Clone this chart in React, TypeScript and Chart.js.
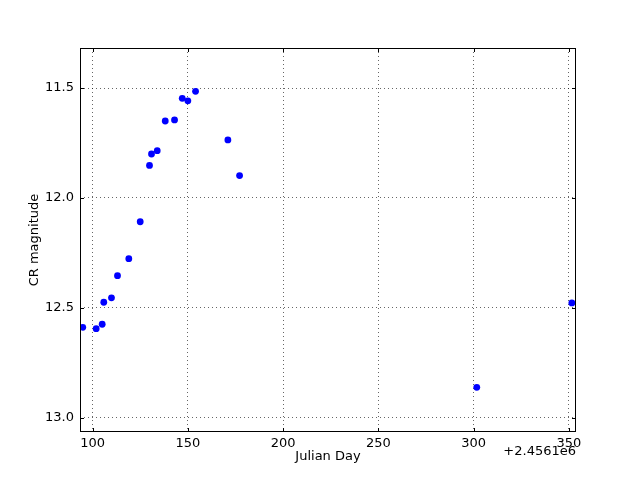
import React, { useEffect, useRef } from "react";
import { Chart, registerables } from "chart.js";

Chart.register(...registerables);

const julianDay: number[] = [94.85, 101.89, 105.04, 105.88, 109.92, 113.08, 119.01, 125.0, 129.88, 130.93, 133.93, 138.13, 143.01, 147.06, 150.0, 154.04, 171.01, 177.15, 301.63, 351.52];
const crMagnitude: number[] = [12.588, 12.594, 12.574, 12.474, 12.454, 12.353, 12.276, 12.108, 11.852, 11.800, 11.785, 11.650, 11.645, 11.547, 11.558, 11.515, 11.736, 11.898, 12.861, 12.477];
const xTicks: number[] = [100, 150, 200, 250, 300, 350];
const yTicks: number[] = [11.5, 12.0, 12.5, 13.0];
const xTitle = "Julian Day";
const yTitle = "CR magnitude";
const offsetText = "+2.4561e6";

const FONT = "DejaVu Sans";

const framePlugin = {
  id: "mplFrame",
  afterDraw(chart: any) {
    const ctx = chart.ctx;
    const { left, right, top, bottom } = chart.chartArea;
    const xs = chart.scales.x;
    const ys = chart.scales.y;
    ctx.save();
    ctx.strokeStyle = "#000";
    ctx.lineWidth = 1;
    ctx.setLineDash([]);
    ctx.beginPath();
    for (const v of xTicks) {
      const px = Math.round(xs.getPixelForValue(v)) + 0.5;
      ctx.moveTo(px, bottom);
      ctx.lineTo(px, bottom - 4);
      ctx.moveTo(px, top);
      ctx.lineTo(px, top + 4);
    }
    for (const v of yTicks) {
      const py = Math.round(ys.getPixelForValue(v)) + 0.5;
      ctx.moveTo(left, py);
      ctx.lineTo(left + 4, py);
      ctx.moveTo(right, py);
      ctx.lineTo(right - 4, py);
    }
    ctx.stroke();
    ctx.strokeRect(left + 0.5, top + 0.5, right - left - 1, bottom - top - 1);
    ctx.fillStyle = "#000";
    ctx.font = `13px '${FONT}'`;
    ctx.textAlign = "center";
    ctx.textBaseline = "middle";
    ctx.fillText(xTitle, (left + right) / 2, 457);
    ctx.textAlign = "right";
    ctx.fillText(offsetText, right, 452);
    ctx.save();
    ctx.translate(35, (top + bottom) / 2);
    ctx.rotate(-Math.PI / 2);
    ctx.textAlign = "center";
    ctx.fillText(yTitle, 0, 0);
    ctx.restore();
    ctx.restore();
  },
};

export default function App() {
  const ref = useRef<HTMLCanvasElement | null>(null);
  useEffect(() => {
    document.body.style.margin = "0";
    const canvas = ref.current!;
    const gridOpts = {
      color: "rgba(0,0,0,0.6)",
      lineWidth: 1,
      drawTicks: false,
      tickLength: 0,
    };
    const chart = new Chart(canvas, {
      type: "scatter",
      data: {
        datasets: [
          {
            data: julianDay.map((x, i) => ({ x, y: crMagnitude[i] })),
            backgroundColor: "#0000ff",
            borderColor: "#0000ff",
            borderWidth: 0,
            pointRadius: 3.4,
            pointHoverRadius: 3.4,
          },
        ],
      },
      options: {
        animation: false,
        responsive: false,
        devicePixelRatio: 1,
        layout: { padding: { left: 0, right: 64, top: 48, bottom: 0 } },
        plugins: { legend: { display: false }, tooltip: { enabled: false } },
        scales: {
          x: {
            type: "linear",
            min: 93.4,
            max: 353.7,
            afterFit(scale: any) {
              scale.height = 48;
            },
            afterBuildTicks(scale: any) {
              scale.ticks = xTicks.map((v) => ({ value: v }));
            },
            border: { display: false, dash: [1, 3] },
            grid: gridOpts,
            ticks: {
              color: "#000",
              padding: 4,
              maxRotation: 0,
              autoSkip: false,
              font: { family: FONT, size: 13 },
              callback: (v: any) => String(v),
            },
          },
          y: {
            type: "linear",
            reverse: true,
            min: 11.318,
            max: 13.064,
            afterFit(scale: any) {
              scale.width = 80;
            },
            afterBuildTicks(scale: any) {
              scale.ticks = yTicks.map((v) => ({ value: v }));
            },
            border: { display: false, dash: [1, 3] },
            grid: gridOpts,
            ticks: {
              color: "#000",
              padding: 6,
              autoSkip: false,
              font: { family: FONT, size: 13 },
              callback: (v: any) => Number(v).toFixed(1),
            },
          },
        },
      },
      plugins: [framePlugin],
    } as any);
    return () => chart.destroy();
  }, []);
  return (
    <div style={{ width: 640, height: 480, background: "#fff" }}>
      <canvas ref={ref} width={640} height={480} style={{ display: "block" }} />
    </div>
  );
}
